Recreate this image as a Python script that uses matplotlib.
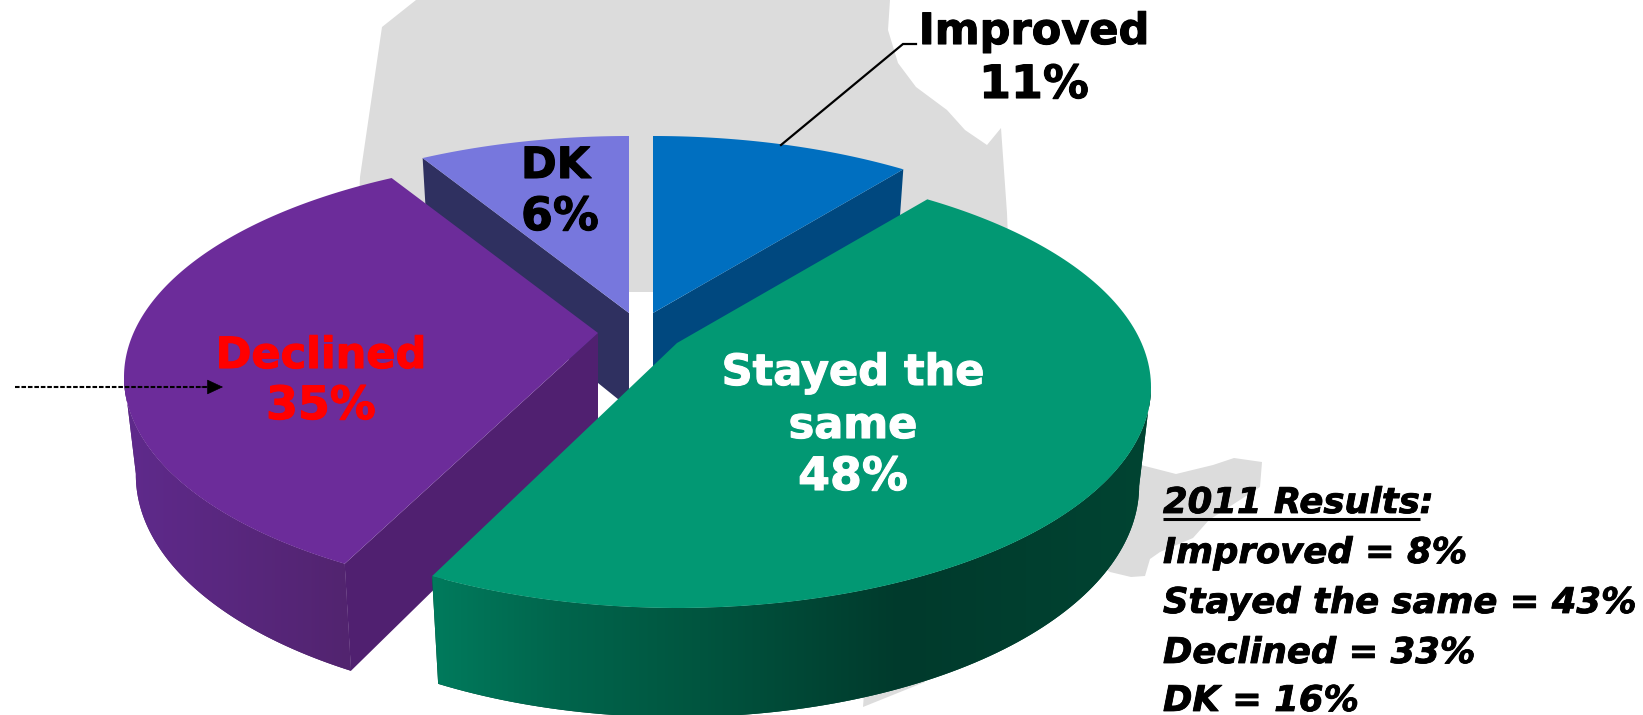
import matplotlib
matplotlib.use("Agg")
import matplotlib.pyplot as plt
import matplotlib.patheffects as pe
import numpy as np
from matplotlib.colors import to_rgb
from matplotlib.patches import Polygon

categories = ["Improved", "Stayed the same", "Declined", "DK"]
label_values = [11, 48, 35, 6]
# the drawn slices do not quite follow the printed labels, these are read off the shape
drawn_shares = [10.7, 46.7, 33.9, 8.7]
results_2011 = [8, 43, 33, 16]

top_colors = ["#006FC0", "#029873", "#6C2C9A", "#7777DD"]
inner_colors = ["#00487F", None, "#502070", "#2F3060"]
wall_stops = {
    1: ([437, 560, 700, 900, 1151], ["#007A5C", "#00654C", "#00553F", "#003A2C", "#004432"]),
    2: ([125, 350], ["#5F2A8C", "#52246F"]),
}
tips = [(653, 313), (677, 343), (598, 333), (629, 313)]
end_trim = [0, 1.0, 0, 0]

RX, RY, OFFSET = 474, 221, 44
P = OFFSET / RY

map_pieces = [
    [(416, 0), (382, 27), (360, 177), (355, 292), (450, 292), (1010, 292), (1007, 213),
     (1001, 128), (987, 145), (965, 130), (947, 110), (916, 87), (898, 63), (888, 30), (890, 0)],
    [(1050, 450), (1141, 465), (1176, 474), (1213, 465), (1234, 458), (1262, 462),
     (1260, 487), (1209, 520), (1193, 538), (1160, 552), (1150, 559), (1145, 576),
     (1131, 577), (1110, 572), (1060, 540)],
    [(863, 707), (865, 680), (923, 660), (925, 682)],
]


def rim_point(theta, tip):
    # circle seen in perspective, the pie centre sits above the middle of the ellipse
    u, v = np.sin(theta), np.cos(theta)
    d = 1 + P * v
    x = tip[0] + RX * u * np.sqrt(1 - P**2) / d
    y = tip[1] + OFFSET - RY * (v + P) / d
    return x, y


def drop(x, y, tip):
    return tip[0] + (x - tip[0]) * 0.975, y + 95 + 0.048 * (y - 313)


fig = plt.figure(figsize=(16.43, 7.15), dpi=100)
ax = fig.add_axes([0, 0, 1, 1])
ax.set_xlim(0, 1643)
ax.set_ylim(715, 0)
ax.set_autoscale_on(False)
ax.axis("off")

for piece in map_pieces:
    ax.add_patch(Polygon(piece, closed=True, facecolor="#DCDCDC", edgecolor="none", zorder=1))

edges = np.deg2rad(np.concatenate([[0], np.cumsum(drawn_shares) * 3.6]))

for z, i in enumerate([3, 0, 2, 1]):
    tip = tips[i]
    z = 2 + z
    theta = np.linspace(edges[i], edges[i + 1] - np.deg2rad(end_trim[i]), 160)
    x, y = rim_point(theta, tip)
    bx, by = drop(x, y, tip)
    tbx, tby = drop(tip[0], tip[1], tip)

    if i in wall_stops:
        stops, hexes = wall_stops[i]
        # only the front part of the rim, from the corner to the widest point
        part = slice(np.argmax(x), None) if i == 1 else slice(0, np.argmin(x) + 1)
        outline = list(zip(x[part], y[part])) + list(zip(bx[part][::-1], by[part][::-1]))
        wall = Polygon(outline, closed=True, facecolor=hexes[-1], edgecolor="none", zorder=z)
        ax.add_patch(wall)
        xs = np.arange(x.min() - 5, x.max() + 5)
        rgb = np.array([to_rgb(c) for c in hexes])
        shade = np.stack([np.interp(xs, stops, rgb[:, c]) for c in range(3)], axis=1)[None, :, :]
        im = ax.imshow(shade, extent=(xs[0], xs[-1], max(by) + 5, min(y) - 5),
                       aspect="auto", interpolation="bilinear", zorder=z)
        im.set_clip_path(wall)

    if inner_colors[i]:
        # the cut face that looks at the viewer
        k = -1 if i == 0 else 0
        face = [(tip[0], tip[1]), (x[k], y[k]), (bx[k], by[k]), (tbx, tby)]
        ax.add_patch(Polygon(face, closed=True, facecolor=inner_colors[i], edgecolor="none", zorder=z))

    top = [tip] + list(zip(x, y))
    ax.add_patch(Polygon(top, closed=True, facecolor=top_colors[i], edgecolor="none", zorder=z))

# leader for Improved
ax.plot([781, 903, 916], [145, 44, 44], color="black", lw=1.6, solid_joinstyle="miter", zorder=7)

# dashed arrow into the Declined slice
ax.plot([15, 212], [387, 387], color="black", lw=1.5, linestyle=(0, (2.2, 0.9)), zorder=7)
ax.annotate(
    "", xy=(223, 387), xytext=(200, 387), zorder=7,
    arrowprops=dict(arrowstyle="-|>,head_length=0.75,head_width=0.35", color="black",
                    lw=0.5, shrinkA=0, shrinkB=0, mutation_scale=14),
)


def label(x, y, text, color, size=31, ha="center"):
    t = ax.text(x, y, text, color=color, ha=ha, va="baseline", family="DejaVu Sans",
                fontweight="bold", fontsize=size, zorder=8)
    t.set_path_effects([pe.withStroke(linewidth=0.8, foreground=color)])
    return t


label(1034, 44, categories[0], "black")
label(1034, 98, f"{label_values[0]}%", "black", size=33)
label(521, 178, categories[3], "black", ha="left")
label(521, 230, f"{label_values[3]}%", "black", size=33, ha="left")
label(321, 368, categories[2], "red")
label(321, 419, f"{label_values[2]}%", "red", size=33)
label(853, 385, "Stayed the", "white")
label(853, 438, "same", "white")
label(853, 490, f"{label_values[1]}%", "white", size=33)

legend_font = dict(family="DejaVu Sans", fontweight="bold", fontstyle="italic", fontsize=25.5,
                   ha="left", va="baseline", zorder=8,
                   path_effects=[pe.withStroke(linewidth=0.6, foreground="black")])
heading = ax.text(1163, 513, "2011 Results", **legend_font)
fig.canvas.draw()
box = heading.get_window_extent().transformed(ax.transData.inverted())
ax.plot([box.x0, box.x1], [519, 519], color="black", lw=2.2, solid_capstyle="butt", zorder=8)
ax.text(box.x1, 513, ":", **legend_font)

for name, value, y in zip(categories, results_2011, [563, 613, 663, 711]):
    ax.text(1163, y, f"{name} = {value}%", **legend_font)

fig.savefig("out.png", dpi=100)
plt.close(fig)
